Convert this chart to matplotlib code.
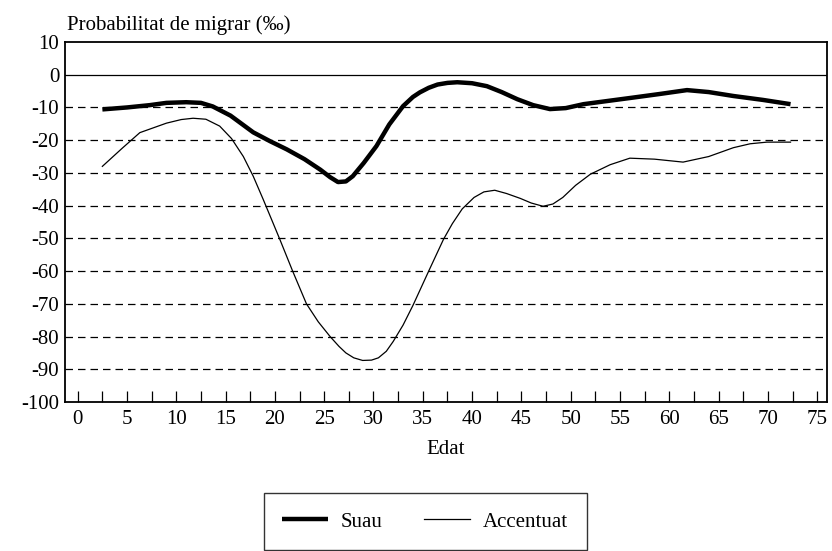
import numpy as np
import matplotlib.pyplot as plt

plt.rcParams['font.family'] = ['Liberation Serif', 'DejaVu Serif']
plt.rcParams['axes.unicode_minus'] = False

# valors llegits del gràfic original
edat_suau = [2.5, 5, 7.3, 9, 11, 12.5, 13.7, 15.5, 17.8, 19.5, 21.2, 23, 24.6, 25.6, 26.4, 27.2, 27.9, 29, 30.3,
             31.6, 33, 34, 34.7, 35.6, 36.5, 37.5, 38.5, 40, 41.5, 43, 44.6, 46.2, 47.9, 49.5, 51.3, 53.8,
             56.3, 59, 61.8, 64, 66.5, 69.5, 72.3]
suau = [-10.6, -10.0, -9.3, -8.6, -8.4, -8.6, -9.7, -12.5, -17.6, -20.3, -22.8, -25.8, -29, -31.3, -32.8, -32.6,
        -31, -27, -21.8, -15.2, -9.6, -6.8, -5.4, -4.0, -3.0, -2.5, -2.3, -2.6, -3.5, -5.3, -7.5, -9.3, -10.5,
        -10.2, -9, -8, -7, -5.9, -4.7, -5.3, -6.5, -7.7, -9]

edat_acc = [2.5, 4.5, 6.3, 9, 10.5, 11.7, 13, 14.4, 15.6, 16.8, 17.8, 18.8, 19.7, 20.5, 21.8, 23.2, 24.4, 25.6,
            26.5, 27.2, 28, 28.9, 29.8, 30.5, 31.3, 32, 33, 34, 35.6, 37.1, 38, 39, 40.2, 41.2, 42.3, 43.5, 44.9,
            46, 47.2, 48.2, 49.2, 50.5, 52, 54, 56, 58.5, 61.4, 64, 66.5, 68.2, 69.9, 72.3]
accentuat = [-28, -22.5, -17.7, -14.8, -13.7, -13.3, -13.6, -15.7, -19.5, -25, -31, -38, -44.5, -50.3, -60, -70,
             -75.5, -80, -83, -85, -86.5, -87.3, -87.2, -86.5, -84.5, -81.5, -76.5, -70.5, -60, -50.3, -45.5,
             -41, -37.5, -35.8, -35.3, -36.3, -37.8, -39.2, -40.2, -39.5, -37.5, -33.8, -30.4, -27.5, -25.5,
             -25.8, -26.7, -25, -22.3, -21.1, -20.6, -20.6]

fig = plt.figure(figsize=(8.32, 5.51), dpi=100)
ax = fig.add_axes([0.078, 0.2704, 0.916, 0.6534])

for y in range(-90, 0, 10):
    ax.axhline(y, color='black', lw=0.9, ls=(0, (6, 4)), zorder=1)
ax.axhline(0, color='black', lw=0.9, zorder=1)

ax.plot(edat_suau, suau, color='black', lw=3.2, solid_capstyle='butt', solid_joinstyle='round',
        label='Suau', zorder=3)
ax.plot(edat_acc, accentuat, color='black', lw=0.9, label='Accentuat', zorder=3)

ax.set_xlim(-1.3, 76)
ax.set_ylim(-100, 10)
ax.set_yticks(range(-100, 11, 10))
ax.set_xticks(range(0, 76, 5))
ax.set_xticks(np.arange(0, 76, 2.5), minor=True)
ax.tick_params(axis='y', length=0, labelsize=15, pad=4)
ax.tick_params(axis='x', which='both', direction='in', length=8, width=0.9, labelsize=15, pad=6)
for s in ax.spines.values():
    s.set_linewidth(1.3)

ax.set_xlabel('Edat', fontsize=15, labelpad=8)
fig.text(0.080, 0.955, 'Probabilitat de migrar (‰)', fontsize=15, ha='left', va='center')

leg = fig.legend(loc='center', bbox_to_anchor=(0.511, 0.053), ncol=2, fontsize=15,
                 frameon=True, fancybox=False, edgecolor='black', handlelength=2.2,
                 columnspacing=2.0, borderpad=0.9, handletextpad=0.6)
leg.get_frame().set_linewidth(1.0)

fig.savefig('out.png', dpi=100)
